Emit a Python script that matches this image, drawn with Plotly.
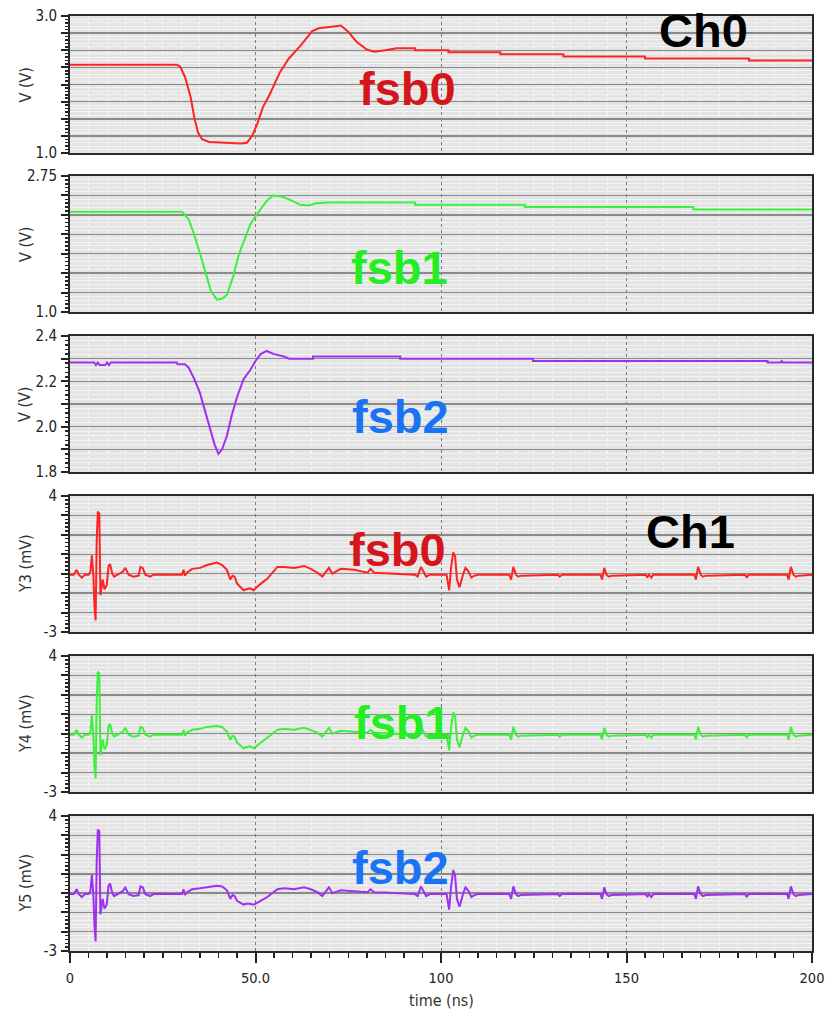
import plotly.graph_objects as go

# ---------------- data ----------------
# Ch0 : node voltages (V)
fsb0_v_t = [0, 28.8, 29.7, 31, 32.5, 33.5, 34.5, 35.6, 37.5, 42, 46, 47.7, 49.1, 50.5, 52, 53.7, 55, 56.6,
            59, 62.2, 65.3, 67, 70, 73, 75, 77.3, 80, 82, 85, 88, 93, 93, 102, 102, 116, 116, 133, 133,
            155, 155, 183, 183, 200]
fsb0_v = [2.29, 2.29, 2.26, 2.11, 1.82, 1.52, 1.30, 1.20, 1.16, 1.15, 1.14, 1.15, 1.25, 1.43, 1.67, 1.84, 1.99, 2.18,
          2.38, 2.57, 2.78, 2.82, 2.84, 2.86, 2.77, 2.62, 2.51, 2.48, 2.50, 2.53, 2.53, 2.50, 2.50, 2.47, 2.47, 2.44, 2.44, 2.41,
          2.41, 2.38, 2.38, 2.35, 2.35]

fsb1_v_t = [0, 30.2, 32, 33.3, 35, 36.5, 38, 39.6, 41, 42.3, 44, 45.5, 47.3, 48.6, 50, 51.4, 53, 54.7, 57,
            59.5, 62, 64.5, 66.3, 70, 93, 93, 122.6, 122.6, 168, 168, 200]
fsb1_v = [2.29, 2.29, 2.19, 2.02, 1.76, 1.50, 1.27, 1.16, 1.17, 1.22, 1.46, 1.74, 1.98, 2.13, 2.23, 2.32, 2.43, 2.50, 2.49,
          2.44, 2.38, 2.37, 2.40, 2.41, 2.41, 2.38, 2.38, 2.35, 2.35, 2.32, 2.32]

fsb2_v_t = [0, 6.5, 7, 7.5, 8, 9.5, 10, 10.5, 11, 28.8, 29, 31, 32, 33.5, 35, 36.5, 38, 39, 40, 41, 42.3, 43.6,
            45, 46.8, 48.6, 50, 51.4, 53, 55, 57.7, 59, 65.5, 65.5, 89, 89, 124.8, 124.8, 188, 188, 191.6,
            191.8, 192.2, 200]
fsb2_v = [2.283, 2.283, 2.272, 2.283, 2.272, 2.272, 2.283, 2.272, 2.283, 2.283, 2.275, 2.275, 2.26, 2.21, 2.15, 2.06,
          1.97, 1.92, 1.88, 1.90, 1.96, 2.05, 2.13, 2.21, 2.25, 2.29, 2.32, 2.334, 2.32, 2.31, 2.30, 2.30, 2.31, 2.31,
          2.30, 2.30, 2.29, 2.29, 2.283, 2.283, 2.29, 2.283, 2.283]

# Ch1 : coupled noise (mV)
ch1_t = [0, 1.0, 1.8, 2.4, 3.2, 4.0, 5.0, 5.5, 5.9, 6.3, 6.6, 6.9, 7.2, 7.5, 7.9, 8.2, 8.8, 9.3, 9.9, 10.4,
         10.8, 11.4, 11.9, 13.0, 14.2, 14.9, 15.8, 17.1, 18.5, 19.0, 19.6, 20.3, 21.6, 22.5, 25.2, 30.2, 30.6,
         31.0, 31.5, 32.9, 35.1, 36.9, 39.6, 41.0, 42.3, 43.2, 43.8, 44.4, 45.0, 46.8, 47.5, 48.5, 49.5, 50.9,
         53.2, 55.9, 57.7, 60.4, 63.1, 64.9, 66.7, 68.0, 69.8, 70.7, 73.0, 76.6, 80.2, 81.0, 82.0, 84.7, 88.0,
         93.0, 93.7, 94.6, 95.3, 96.0, 97.0, 101.5, 102.2, 102.7, 103.3, 103.8, 104.3, 105.0, 106.0, 106.6,
         107.3, 108.2, 109.0, 110.0, 118.4, 118.9, 119.5, 120.2, 120.8, 121.5, 131.5, 132.0, 132.6, 143.0,
         143.4, 144.0, 144.6, 145.2, 146.0, 155.2, 155.6, 156.0, 156.7, 157.2, 168.3, 168.7, 169.3, 170.0,
         170.6, 171.4, 182.0, 182.4, 182.9, 193.3, 193.7, 194.3, 195.0, 195.6, 196.4, 200]
fsb0_mv = [-0.05, -0.05, 0.2, -0.05, -0.2, -0.05, -0.05, 0.1, 0.95, -0.1, -1.7, -2.4, 1.7, 3.2, 3.1, -1.1, -0.3, -0.8,
           -0.6, 0.4, 0.5, 0.0, -0.15, -0.05, 0.1, 0.3, -0.05, -0.15, -0.1, 0.35, 0.3, -0.05, -0.15, -0.05, -0.05,
           -0.05, 0.2, -0.1, 0.05, 0.25, 0.3, 0.45, 0.57, 0.45, 0.2, -0.3, -0.1, -0.15, -0.5, -0.85, -0.8, -0.75,
           -0.85, -0.6, -0.25, 0.35, 0.35, 0.3, 0.4, 0.25, 0.05, -0.15, 0.3, 0.0, 0.25, 0.2, 0.05, 0.25, 0.05,
           0.03, 0.0, -0.05, -0.15, 0.35, 0.1, -0.15, -0.05, -0.05, -0.85, 0.3, 1.1, 0.9, -0.3, -0.7, 0.0, 0.3,
           0.15, -0.2, -0.1, -0.05, -0.05, -0.3, 0.35, -0.05, -0.15, -0.1, -0.05, -0.15, -0.05, -0.05, -0.3, 0.3,
           -0.05, -0.15, -0.1, -0.05, -0.2, -0.05, -0.2, -0.05, -0.05, -0.3, 0.35, -0.05, -0.15, -0.1, -0.05,
           -0.2, -0.05, -0.05, -0.3, 0.35, -0.05, -0.15, -0.1, -0.05]
fsb1_mv = [-0.05, -0.05, 0.2, -0.05, -0.2, -0.05, -0.05, 0.1, 0.95, -0.1, -1.7, -2.3, 1.7, 3.2, 3.1, -1.1, -0.3, -0.8,
           -0.6, 0.4, 0.5, 0.0, -0.15, -0.05, 0.1, 0.3, -0.05, -0.15, -0.1, 0.35, 0.3, -0.05, -0.15, -0.05, -0.05,
           -0.05, 0.2, -0.1, 0.05, 0.2, 0.25, 0.35, 0.4, 0.35, 0.1, -0.3, -0.1, -0.15, -0.45, -0.75, -0.7, -0.65,
           -0.75, -0.55, -0.2, 0.2, 0.25, 0.2, 0.3, 0.2, 0.05, -0.15, 0.3, 0.0, 0.15, 0.1, 0.05, 0.2, 0.05,
           0.03, 0.0, -0.05, -0.15, 0.35, 0.1, -0.15, -0.05, -0.05, -0.85, 0.3, 1.1, 0.9, -0.3, -0.7, 0.0, 0.3,
           0.15, -0.2, -0.1, -0.05, -0.05, -0.3, 0.35, -0.05, -0.15, -0.1, -0.05, -0.15, -0.05, -0.05, -0.3, 0.3,
           -0.05, -0.15, -0.1, -0.05, -0.2, -0.05, -0.2, -0.05, -0.05, -0.3, 0.35, -0.05, -0.15, -0.1, -0.05,
           -0.2, -0.05, -0.05, -0.3, 0.35, -0.05, -0.15, -0.1, -0.05]
fsb2_mv = [-0.05, -0.05, 0.2, -0.05, -0.2, -0.05, -0.05, 0.1, 0.95, -0.1, -1.7, -2.5, 1.7, 3.3, 3.2, -1.1, -0.3, -0.8,
           -0.6, 0.4, 0.5, 0.0, -0.15, -0.05, 0.1, 0.3, -0.05, -0.15, -0.1, 0.35, 0.3, -0.05, -0.15, -0.05, -0.05,
           -0.05, 0.2, -0.1, 0.05, 0.2, 0.25, 0.3, 0.38, 0.35, 0.15, -0.3, -0.1, -0.15, -0.4, -0.6, -0.55, -0.55,
           -0.6, -0.45, -0.2, 0.2, 0.25, 0.2, 0.3, 0.2, 0.05, -0.15, 0.3, 0.0, 0.15, 0.1, 0.05, 0.2, 0.05,
           0.03, 0.0, -0.05, -0.15, 0.35, 0.1, -0.15, -0.05, -0.05, -0.85, 0.3, 1.2, 0.9, -0.3, -0.7, 0.0, 0.3,
           0.15, -0.2, -0.1, -0.05, -0.05, -0.3, 0.35, -0.05, -0.15, -0.1, -0.05, -0.15, -0.05, -0.05, -0.3, 0.3,
           -0.05, -0.15, -0.1, -0.05, -0.2, -0.05, -0.2, -0.05, -0.05, -0.3, 0.35, -0.05, -0.15, -0.1, -0.05,
           -0.2, -0.05, -0.05, -0.3, 0.35, -0.05, -0.15, -0.1, -0.05]

# axes / ticks
x_tickvals = [0, 50, 100, 150, 200]
x_ticktext = ["0", "50.0", "100", "150", "200"]
y_titles = ["V (V)", "V (V)", "V (V)", "Y3 (mV)", "Y4 (mV)", "Y5 (mV)"]
y_ranges = [[1.0, 3.0], [1.0, 2.75], [1.8, 2.4], [-3, 4], [-3, 4], [-3, 4]]
y_tickvals = [
    [1.0, 1.25, 1.5, 1.75, 2.0, 2.25, 2.5, 2.75, 3.0],
    [1.0, 1.25, 1.5, 1.75, 2.0, 2.25, 2.5, 2.75],
    [1.8, 1.9, 2.0, 2.1, 2.2, 2.3, 2.4],
    [-3, -2, -1, 0, 1, 2, 3, 4],
    [-3, -2, -1, 0, 1, 2, 3, 4],
    [-3, -2, -1, 0, 1, 2, 3, 4],
]
y_ticktext = [
    ["1.0", "", "", "", "", "", "", "", "3.0"],
    ["1.0", "", "", "", "", "", "", "2.75"],
    ["1.8", "", "2.0", "", "2.2", "", "2.4"],
    ["-3", "", "", "", "", "", "", "4"],
    ["-3", "", "", "", "", "", "", "4"],
    ["-3", "", "", "", "", "", "", "4"],
]
y_minor = [0.05, 0.05, 0.02, 0.2, 0.2, 0.2]

labels = ["fsb0", "fsb1", "fsb2", "fsb0", "fsb1", "fsb2"]
channel_labels = ["Ch0", "Ch1"]

# ---------------- styling ----------------
W, H = 825, 1011
L, R, T, B = 70, 13, 16, 60
panel_px = [(16, 153), (176, 312), (336, 472), (496, 632), (656, 792), (816, 951)]
plot_h = H - T - B
plot_w = W - L - R

trace_colors = ["#ff2222", "#3cf03c", "#a030f0", "#ff2222", "#3cf03c", "#a030f0"]
label_colors = ["#d4161c", "#22ee22", "#1a73f5", "#d4161c", "#22ee22", "#1a73f5"]
label_px = [(407, 88), (399, 267), (400, 417), (397, 550), (402, 722), (400, 867)]
ch_px = [(703, 30), (690, 531)]

narrow = "DejaVu Sans Condensed, Liberation Sans Narrow, Arial Narrow, sans-serif"
bold = "Liberation Sans, Arial, Helvetica, sans-serif"


def py2paper(py):
    return (H - B - py) / plot_h


def px2paper(px):
    return (px - L) / plot_w


series = [
    (fsb0_v_t, fsb0_v), (fsb1_v_t, fsb1_v), (fsb2_v_t, fsb2_v),
    (ch1_t, fsb0_mv), (ch1_t, fsb1_mv), (ch1_t, fsb2_mv),
]

fig = go.Figure()
layout = dict(
    width=W, height=H,
    margin=dict(l=L, r=R, t=T, b=B, autoexpand=False),
    paper_bgcolor="white",
    plot_bgcolor="#e4e4e4",
    showlegend=False,
    font=dict(family=narrow, color="#222222", size=16),
)
annotations = []

for i, (tx, ty) in enumerate(series):
    n = i + 1
    sfx = "" if n == 1 else str(n)
    fig.add_trace(go.Scatter(
        x=tx, y=ty, mode="lines",
        line=dict(color=trace_colors[i], width=2),
        xaxis="x" + sfx, yaxis="y" + sfx, hoverinfo="skip", cliponaxis=True,
    ))
    top, bot = panel_px[i]
    bottom_panel = (n == 6)
    layout["xaxis" + sfx] = dict(
        domain=[0, 1], anchor="y" + sfx, range=[0, 200], automargin=False,
        tickmode="array", tickvals=x_tickvals,
        ticktext=x_ticktext if bottom_panel else ["", "", "", "", ""],
        showticklabels=bottom_panel, ticklabeloverflow="allow",
        ticks="outside" if bottom_panel else "", ticklen=10, tickwidth=2, tickcolor="#222",
        showgrid=True, gridcolor="#7a7a7a", gridwidth=1, griddash="dot",
        showline=True, mirror=True, linecolor="#2a2a2a", linewidth=2,
        zeroline=False, ticklabelstandoff=3,
        tickfont=dict(family=narrow, size=14.5, color="#222"),
        minor=dict(tickmode="linear", tick0=0, dtick=5, showgrid=True, gridcolor="#f7f7f7", gridwidth=1,
                   ticks="outside" if bottom_panel else "", ticklen=5, tickwidth=1.5, tickcolor="#222"),
        fixedrange=True,
    )
    if n > 1:
        layout["xaxis" + sfx]["matches"] = "x"
    layout["yaxis" + sfx] = dict(
        domain=[py2paper(bot), py2paper(top)], anchor="x" + sfx, range=y_ranges[i], automargin=False,
        tickmode="array", tickvals=y_tickvals[i], ticktext=y_ticktext[i],
        ticks="outside", ticklen=7, tickwidth=2, tickcolor="#222",
        showgrid=True, gridcolor="#8a8a8a", gridwidth=1.5,
        showline=True, mirror=True, linecolor="#2a2a2a", linewidth=2,
        zeroline=False, ticklabelstandoff=1, ticklabeloverflow="allow",
        tickfont=dict(family=narrow, size=15, color="#222"),
        minor=dict(tickmode="linear", tick0=y_ranges[i][0], dtick=y_minor[i], showgrid=True,
                   gridcolor="#f3f3f3", gridwidth=1,
                   ticks="outside", ticklen=3, tickwidth=1.5, tickcolor="#222"),
        fixedrange=True,
    )
    # y axis title
    annotations.append(dict(
        xref="paper", yref="paper", x=px2paper(25), y=py2paper((top + bot) / 2),
        text=y_titles[i], textangle=-90, showarrow=False,
        font=dict(family=narrow, size=16, color="#333"),
        xanchor="center", yanchor="middle",
    ))
    # big signal label
    lx, ly = label_px[i]
    annotations.append(dict(
        xref="paper", yref="paper", x=px2paper(lx), y=py2paper(ly),
        text="<b>%s</b>" % labels[i], showarrow=False,
        font=dict(family=bold, size=47, color=label_colors[i]),
        xanchor="center", yanchor="middle",
    ))

for j, (cx, cy) in enumerate(ch_px):
    annotations.append(dict(
        xref="paper", yref="paper", x=px2paper(cx), y=py2paper(cy),
        text="<b>%s</b>" % channel_labels[j], showarrow=False,
        font=dict(family=bold, size=47, color="#000000"),
        xanchor="center", yanchor="middle",
    ))

annotations.append(dict(
    xref="paper", yref="paper", x=0.5, y=py2paper(1000),
    text="time (ns)", showarrow=False,
    font=dict(family=narrow, size=16, color="#333"),
    xanchor="center", yanchor="middle",
))

layout["annotations"] = annotations
fig.update_layout(**layout)
fig.write_html(
    "out.html",
    config={"displayModeBar": False, "staticPlot": True},
    post_script="document.body.style.margin='0';document.body.style.padding='0';"
                "document.documentElement.style.overflow='hidden';",
)
